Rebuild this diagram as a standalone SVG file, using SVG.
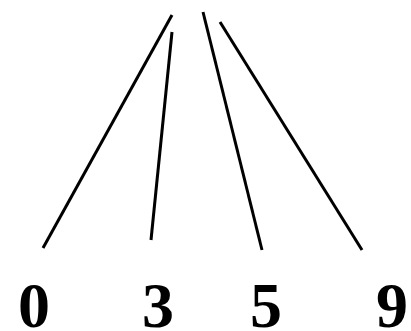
<svg xmlns="http://www.w3.org/2000/svg" width="411" height="331" viewBox="0 0 411 331">
<style>
.e{stroke:#000;stroke-width:3;fill:none;stroke-linecap:butt}
.t{font-family:"Liberation Serif","Times New Roman",serif;font-weight:bold;font-size:64px;fill:#000;text-anchor:middle}
</style>
<rect width="411" height="331" fill="#fff"/>
<g id="connectors">
<line class="e" x1="172" y1="15" x2="43" y2="248"/>
<line class="e" x1="172" y1="32" x2="151" y2="240"/>
<line class="e" x1="203" y1="12" x2="262" y2="250"/>
<line class="e" x1="220" y1="22" x2="362" y2="250"/>
</g>
<g id="n0"><text class="t" x="34" y="327">0</text></g>
<g id="n3"><text class="t" x="158" y="327">3</text></g>
<g id="n5"><text class="t" x="266" y="327">5</text></g>
<g id="n9"><text class="t" x="392" y="327">9</text></g>
</svg>
